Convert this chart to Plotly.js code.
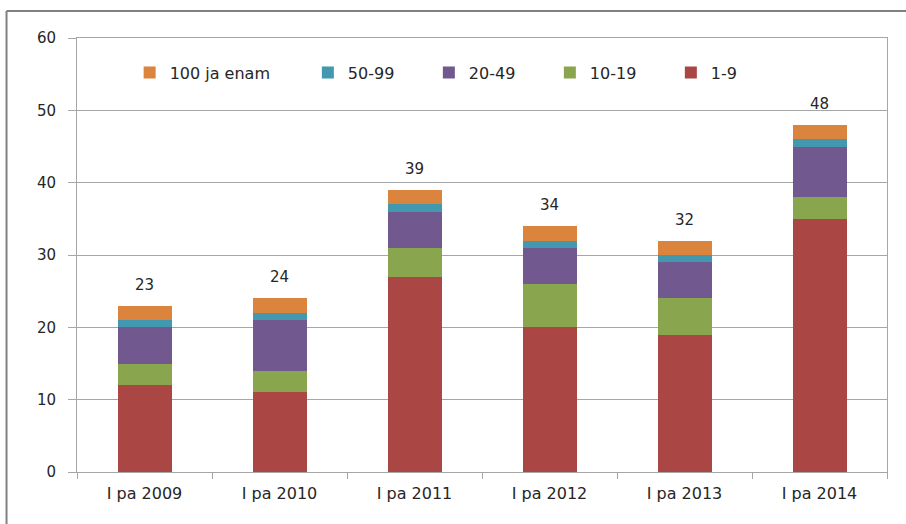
<!DOCTYPE html>
<html>
<head>
<meta charset="utf-8">
<script src="https://cdn.plot.ly/plotly-3.0.1.min.js"></script>
<style>
html,body{margin:0;padding:0;background:#fff;}
#chart{width:906px;height:524px;}
</style>
</head>
<body>
<div id="chart"></div>
<script>
var categories = ["I pa 2009", "I pa 2010", "I pa 2011", "I pa 2012", "I pa 2013", "I pa 2014"];
var s1_9 = [12, 11, 27, 20, 19, 35];
var s10_19 = [3, 3, 4, 6, 5, 3];
var s20_49 = [5, 7, 5, 5, 5, 7];
var s50_99 = [1, 1, 1, 1, 1, 1];
var s100 = [2, 2, 2, 2, 2, 2];
var totals = [23, 24, 39, 34, 32, 48];
var yTicks = [0, 10, 20, 30, 40, 50, 60];

var font = "DejaVu Sans, Verdana, sans-serif";
function bar(name, y, color, legend) {
  return {type: "bar", name: name, x: categories, y: y, marker: {color: color},
          legend: legend, hoverinfo: "skip"};
}
var data = [
  bar("1-9", s1_9, "#AA4643", "legend"),
  bar("10-19", s10_19, "#89A54E", "legend"),
  bar("20-49", s20_49, "#71588F", "legend"),
  bar("50-99", s50_99, "#4198AF", "legend"),
  bar("100 ja enam", s100, "#DB843D", "legend2")
];

var annotations = categories.map(function (c, i) {
  return {x: c, y: totals[i], text: String(totals[i]), showarrow: false,
          yanchor: "bottom", yshift: 10, font: {family: font, size: 15, color: "#262626"}};
});

var layout = {
  width: 906, height: 524,
  margin: {l: 77, r: 19, t: 38, b: 52},
  paper_bgcolor: "#fff", plot_bgcolor: "#fff",
  barmode: "stack", bargap: 0.6,
  font: {family: font, size: 15, color: "#262626"},
  xaxis: {type: "category", showgrid: false, showline: true, linecolor: "#a6a6a6", linewidth: 1,
          ticks: "outside", tickson: "boundaries", ticklen: 6, tickcolor: "#a6a6a6",
          ticklabelstandoff: 7,
          mirror: true, tickfont: {family: font, size: 16, color: "#262626"}},
  yaxis: {range: [0, 60], tickvals: yTicks, showgrid: true, gridcolor: "#a6a6a6", gridwidth: 1,
          showline: true, linecolor: "#a6a6a6", linewidth: 1, mirror: true,
          ticks: "outside", ticklen: 8, tickcolor: "#a6a6a6", zeroline: false,
          ticklabelstandoff: 9,
          tickfont: {family: font, size: 15, color: "#262626"}},
  legend: {orientation: "h", x: 0.285, y: 0.92, xanchor: "left", yanchor: "middle",
           traceorder: "reversed", entrywidth: 76, font: {family: font, size: 16, color: "#262626"},
           bgcolor: "rgba(0,0,0,0)"},
  legend2: {orientation: "h", x: 0.065, y: 0.92, xanchor: "left", yanchor: "middle",
           font: {family: font, size: 16, color: "#262626"}, bgcolor: "rgba(0,0,0,0)"},
  annotations: annotations,
  shapes: [
    {type: "line", xref: "paper", yref: "paper", x0: -0.087, x1: 1.1, y0: 1.062, y1: 1.062,
     line: {color: "#808080", width: 2}},
    {type: "line", xref: "paper", yref: "paper", x0: -0.087, x1: -0.087, y0: 1.062, y1: -0.2,
     line: {color: "#808080", width: 2}}
  ],
  showlegend: true
};

Plotly.newPlot("chart", data, layout, {displayModeBar: false, staticPlot: true});
</script>
</body>
</html>
